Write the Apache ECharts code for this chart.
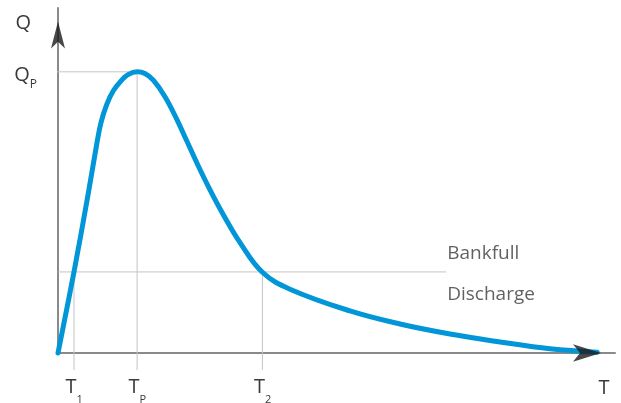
<!DOCTYPE html>
<html>
<head>
<meta charset="utf-8">
<script src="https://cdn.jsdelivr.net/npm/echarts@6/dist/echarts.min.js"></script>
<style>
html,body{margin:0;padding:0;background:#fff;}
#chart{width:621px;height:403px;}
</style>
</head>
<body>
<div id="chart"></div>
<script>
// Hydrograph (discharge Q vs time T)
const curveT = [0, 2.87, 5.44, 6.95, 7.72, 8.74, 9.93, 11.44, 12.57, 14.2, 15.6, 17.11, 19.21, 21.31, 23.11, 25.19, 27.29, 29.68, 32.68, 36.7, 41.65, 52.42, 61.4, 70.38, 79.35, 88.33, 96.8];
const curveQ = [0, 23.5, 46.3, 60.5, 66.8, 72.0, 76.0, 79.1, 80.7, 81.5, 81.0, 79.1, 74.3, 67.8, 61.5, 54.2, 47.3, 40.1, 32.0, 23.4, 18.5, 12.2, 8.4, 5.5, 3.2, 1.2, 0.2];

const T1 = 2.87, TP = 14.2, T2 = 36.7;
const QP = 81.5;
const bankfullQ = 23.5;
const bankfullEndT = 69.7;

const tickT = [T1, TP, T2];
const tickTSubs = ['1', 'P', '2'];
const tickQ = [QP];
const tickQSubs = ['P'];
const bankfullText = ['Bankfull', 'Discharge'];

const TXT = '#3a3a3a';
const GUIDE = '#c4c4c4';
const FONT = 'Open Sans';

const guide = (pts) => ({
  type: 'line', data: pts, symbol: 'none', clip: false, silent: true,
  lineStyle: { color: GUIDE, width: 1 }, z: 1
});

const chart = echarts.init(document.getElementById('chart'), null, { renderer: 'canvas' });
chart.setOption({
  animation: false,
  backgroundColor: '#fff',
  grid: { left: 58, right: 6, top: 8, bottom: 50, containLabel: false, outerBoundsMode: 'none' },
  xAxis: {
    type: 'value', min: 0, max: 100,
    name: 'T', nameLocation: 'end', nameGap: -11,
    nameTextStyle: { fontFamily: FONT, fontSize: 20, color: TXT, align: 'center', verticalAlign: 'top', padding: [25, 0, 0, 0] },
    axisLine: { show: true, lineStyle: { color: '#8a8a8a', width: 2 } },
    axisTick: { show: false },
    splitLine: { show: false },
    axisLabel: {
      customValues: tickT,
      margin: 24,
      formatter: (v) => {
        const i = tickT.findIndex(t => Math.abs(t - v) < 1e-6);
        return '{h| }{m|T}{s|' + tickTSubs[i] + '}';
      },
      rich: {
        h: { fontSize: 1, lineHeight: 28, verticalAlign: 'top' },
        m: { fontFamily: FONT, fontSize: 20, color: TXT, lineHeight: 22, verticalAlign: 'top' },
        s: { fontFamily: FONT, fontSize: 11, color: TXT, lineHeight: 12, verticalAlign: 'bottom' }
      }
    }
  },
  yAxis: {
    type: 'value', min: 0, max: 100,
    name: 'Q', nameLocation: 'end', nameGap: -15,
    nameTextStyle: { fontFamily: FONT, fontSize: 20, color: TXT, align: 'right', verticalAlign: 'middle', padding: [0, 27, 0, 0] },
    axisLine: { show: true, lineStyle: { color: '#8a8a8a', width: 2 } },
    axisTick: { show: false },
    splitLine: { show: false },
    axisLabel: {
      customValues: tickQ,
      margin: 21,
      padding: [12, 0, 0, 0],
      formatter: (v) => {
        const i = tickQ.findIndex(t => Math.abs(t - v) < 1e-6);
        return '{h| }{m|Q}{s|' + tickQSubs[i] + '}';
      },
      rich: {
        h: { fontSize: 1, lineHeight: 26, verticalAlign: 'top' },
        m: { fontFamily: FONT, fontSize: 20, color: TXT, lineHeight: 22, verticalAlign: 'top' },
        s: { fontFamily: FONT, fontSize: 12, color: TXT, lineHeight: 12, verticalAlign: 'bottom' }
      }
    }
  },
  series: [
    guide([[-3, QP], [TP, QP]]),
    guide([[TP, QP], [TP, -4.9]]),
    guide([[0, bankfullQ], [bankfullEndT, bankfullQ]]),
    guide([[T1, bankfullQ], [T1, -4.9]]),
    guide([[T2, bankfullQ], [T2, -4.9]]),
    {
      type: 'line', symbol: 'none', smooth: 0.4, clip: false, z: 3,
      data: curveT.map((t, i) => [t, curveQ[i]]),
      lineStyle: { color: '#0096d8', width: 5, cap: 'round', join: 'round' }
    },
    {
      type: 'scatter', clip: false, z: 4, silent: true,
      data: [[bankfullEndT, bankfullQ]],
      symbolSize: 0,
      itemStyle: { color: 'rgba(0,0,0,0)' },
      label: {
        show: true, position: 'right', distance: 1, offset: [0, 2],
        formatter: bankfullText.join('\n'),
        fontFamily: FONT, fontSize: 19, color: TXT, lineHeight: 41, align: 'left', verticalAlign: 'middle'
      }
    },
    {
      type: 'scatter', clip: false, z: 5, silent: true,
      data: [[0, 100]],
      symbol: 'arrow', symbolSize: [10.5, 27], symbolOffset: [0, 13.5],
      itemStyle: { color: '#1a1a1a' }
    },
    {
      type: 'scatter', clip: false, z: 5, silent: true,
      data: [[100, 0]],
      symbol: 'arrow', symbolSize: [13, 28], symbolRotate: -90, symbolOffset: [-14, 0],
      itemStyle: { color: '#1a1a1a' }
    }
  ]
});
</script>
</body>
</html>
